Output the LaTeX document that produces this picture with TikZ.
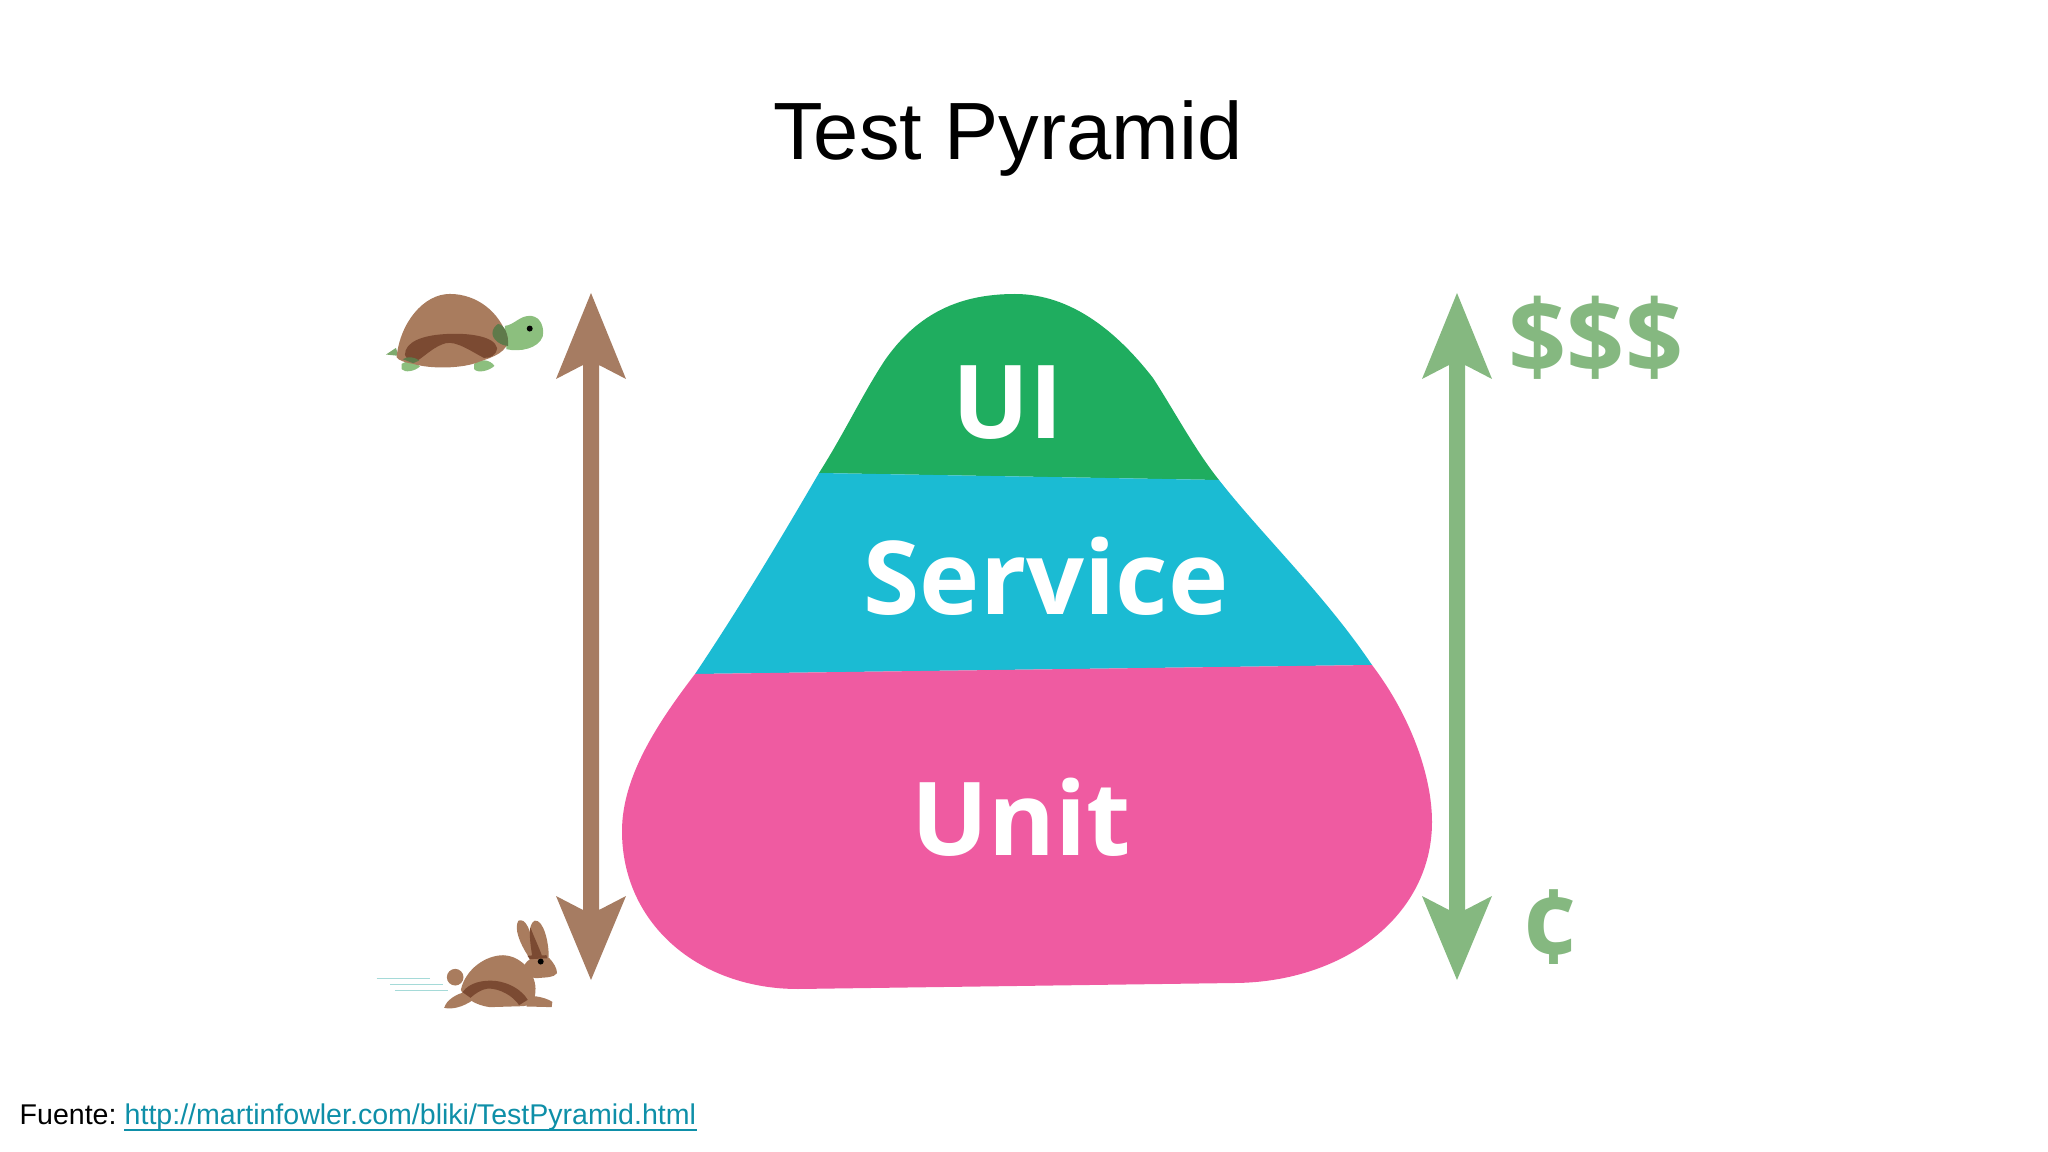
\documentclass[tikz,border=0pt]{standalone}
\usepackage{fontspec}
\setmainfont{Liberation Sans}
\newfontfamily\opensans{Open Sans}
\definecolor{brownarrow}{HTML}{A67C62}
\definecolor{greenarrow}{HTML}{85B880}
\definecolor{uigreen}{HTML}{1FAD5F}
\definecolor{svcblue}{HTML}{1BBBD3}
\definecolor{unitpink}{HTML}{EF5BA1}
\definecolor{shell}{HTML}{A97C5E}
\definecolor{band}{HTML}{7B4A32}
\definecolor{neck}{HTML}{5F7A4A}
\definecolor{skin}{HTML}{8CBF7E}
\definecolor{linkteal}{HTML}{0E8FA8}
\definecolor{speedline}{HTML}{A5DAD8}
\tikzset{
  pxunits/.style={x=0.01cm,y=-0.01cm},
  layerlabel/.style={font=\opensans\bfseries\fontsize{29pt}{29pt}\selectfont,text=white,inner sep=0pt},
  costlabel/.style={font=\opensans\bfseries\fontsize{29pt}{29pt}\selectfont,text=greenarrow,inner sep=0pt},
  animal/.style={shift={(#1)},x=0.00333cm,y=-0.00333cm}
}
\begin{document}
\begin{tikzpicture}[pxunits]
\useasboundingbox (0,0) rectangle (2048,1152);
\node[inner sep=0pt,font=\fontsize{23.1pt}{23.1pt}\selectfont] (title) at (1008,138.5) {Test Pyramid};
% pyramid
\fill[uigreen] (819,473) .. controls (845,432) and (862,395) .. (885,360)
  .. controls (918,313) and (960,294) .. (1015,294)
  .. controls (1072,294) and (1118,333) .. (1153,378)
  .. controls (1175,412) and (1195,450) .. (1219,480) -- cycle;
\fill[svcblue] (819,473) -- (1219,480) .. controls (1262,535) and (1325,595) .. (1372,665)
  -- (695,674) .. controls (738,610) and (780,540) .. (819,473) -- cycle;
\fill[unitpink] (695,674) -- (1372,665) .. controls (1410,715) and (1432,775) .. (1432,822)
  .. controls (1432,915) and (1345,982) .. (1235,983)
  -- (798,989) .. controls (700,989) and (622,925) .. (622,831)
  .. controls (622,775) and (660,720) .. (695,674) -- cycle;
\node[layerlabel] (ui) at (1008,403) {UI};
\node[layerlabel] (service) at (1046,576) {Service};
\node[layerlabel] (unit) at (1021,817) {Unit};
% arrows
\fill[brownarrow] (591,293) -- (626,379) -- (599,365) -- (599,910) -- (626,896) -- (591,980) -- (556,896) -- (583,910) -- (583,365) -- (556,379) -- cycle;
\fill[greenarrow] (1457,293) -- (1492,379) -- (1465,365) -- (1465,910) -- (1492,896) -- (1457,980) -- (1422,896) -- (1449,910) -- (1449,365) -- (1422,379) -- cycle;
\node[costlabel] (dollars) at (1596,338) {\$\$\$};
\node[costlabel] (cents) at (1551,927) {¢};
% turtle
\begin{scope}[animal={360,270}]
  \fill[skin!70!neck] (78,254) -- (108,234) -- (116,258) -- cycle;
  \fill[skin] (125,282) .. controls (140,270) and (165,272) .. (180,290) .. controls (165,304) and (135,310) .. (125,298) -- cycle;
  \fill[skin] (343,282) .. controls (360,266) and (390,268) .. (404,288) .. controls (390,302) and (355,312) .. (343,298) -- cycle;
  \fill[skin] (435,168) .. controls (465,165) and (480,135) .. (515,138) .. controls (545,142) and (554,175) .. (549,200) .. controls (535,237) and (480,247) .. (440,238) -- cycle;
  \fill[shell] (110,262) .. controls (120,160) and (190,72) .. (270,72) .. controls (350,72) and (420,125) .. (444,205) .. controls (448,245) and (400,262) .. (360,275) .. controls (310,297) and (210,298) .. (160,282) .. controls (135,278) and (116,272) .. (110,262) -- cycle;
  \fill[neck] (415,162) .. controls (435,165) and (447,195) .. (445,228) .. controls (425,228) and (398,210) .. (398,190) .. controls (398,178) and (406,168) .. (415,162) -- cycle;
  \fill[band] (135,255) .. controls (135,215) and (190,197) .. (250,193) .. controls (310,188) and (405,195) .. (412,235) .. controls (408,258) and (392,265) .. (372,264) .. controls (340,248) and (290,212) .. (258,220) .. controls (225,228) and (195,258) .. (176,270) .. controls (155,274) and (138,268) .. (135,255) -- cycle;
  \fill[neck] (128,268) .. controls (145,258) and (165,262) .. (178,272) -- (160,280) -- cycle;
  \fill[black] (510,176) circle[radius=9];
\end{scope}
% rabbit
\begin{scope}[animal={360,890}]
  \draw[speedline,line width=0.45pt] (50,266) -- (210,266) (90,284) -- (250,284) (105,302) -- (265,302);
  \fill[shell] (286,262) circle[radius=25];
  \fill[shell] (253,354) .. controls (260,330) and (290,312) .. (318,306) -- (340,330) .. controls (310,352) and (275,360) .. (253,354) -- cycle;
  \fill[shell] (505,318) .. controls (540,318) and (565,328) .. (578,336) -- (576,352) -- (500,350) -- cycle;
  \fill[shell] (505,198) .. controls (480,160) and (462,115) .. (476,92) .. controls (497,85) and (512,110) .. (527,198) -- cycle;
  \fill[shell] (525,202) .. controls (508,150) and (503,105) .. (525,92) .. controls (552,88) and (568,160) .. (567,202) -- cycle;
  \fill[band] (512,112) .. controls (522,140) and (537,170) .. (547,198) -- (518,202) .. controls (513,170) and (508,140) .. (512,112) -- cycle;
  \fill[shell] (490,235) .. controls (498,205) and (540,188) .. (567,203) .. controls (582,218) and (592,235) .. (592,250) .. controls (582,264) and (560,262) .. (530,265) .. controls (510,265) and (496,252) .. (490,235) -- cycle;
  \fill[band] (503,197) -- (560,196) -- (563,205) -- (510,208) -- cycle;
  \fill[shell] (303,300) .. controls (318,235) and (380,196) .. (430,196) .. controls (492,198) and (532,260) .. (527,305) .. controls (527,332) and (512,347) .. (490,349) -- (390,352) .. controls (350,347) and (313,325) .. (303,300) -- cycle;
  \fill[band] (308,307) .. controls (328,278) and (370,270) .. (405,273) .. controls (452,278) and (488,303) .. (504,330) -- (478,346) .. controls (460,318) and (420,296) .. (385,296) .. controls (365,298) and (345,312) .. (332,324) -- cycle;
  \fill[black] (543,215) circle[radius=9];
\end{scope}
% footer
\node[anchor=base west,inner sep=0pt,font=\fontsize{8.12pt}{8.12pt}\selectfont] (source) at (19,1124) {Fuente:};
\node[anchor=base west,inner sep=0pt,font=\fontsize{8.12pt}{8.12pt}\selectfont,text=linkteal] (link) at (124,1124) {http://martinfowler.com/bliki/TestPyramid.html};
\draw[linkteal,line width=0.6pt] ([yshift=-1.6pt]link.base west) -- ([yshift=-1.6pt]link.base east);
\end{tikzpicture}
\end{document}
